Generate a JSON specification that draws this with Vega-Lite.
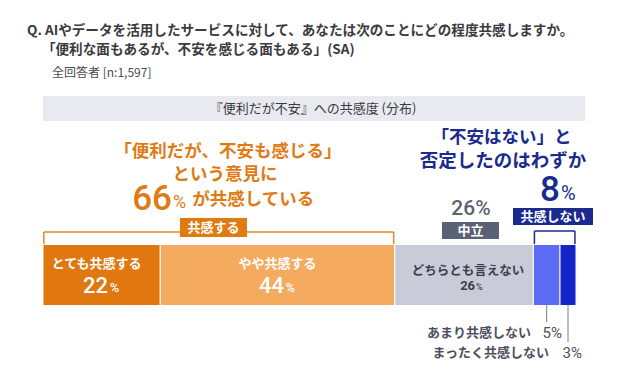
{
  "$schema": "https://vega.github.io/schema/vega-lite/v6.json",
  "width": 628,
  "height": 380,
  "autosize": {"type": "fit", "contains": "padding"},
  "padding": 0,
  "background": "white",
  "config": {"view": {"stroke": null}, "font": "Noto Sans CJK JP"},
  "datasets": {
    "segments": [
      {"cat": "とても共感する", "value": 22, "order": 1},
      {"cat": "やや共感する", "value": 44, "order": 2},
      {"cat": "どちらとも言えない", "value": 26, "order": 3},
      {"cat": "あまり共感しない", "value": 5, "order": 4},
      {"cat": "まったく共感しない", "value": 3, "order": 5}
    ]
  },
  "layer": [
    {
      "data": {"values": [{}]},
      "mark": {"type": "rect", "color": "#e9eaef"},
      "encoding": {
        "x": {"datum": 0, "type": "quantitative", "scale": {"domain": [-8.067, 109.756], "nice": false, "zero": false}, "axis": null},
        "x2": {"datum": 101.7},
        "y": {"datum": 96, "type": "quantitative", "scale": {"domain": [0, 380], "reverse": true, "nice": false, "zero": false}, "axis": null},
        "y2": {"datum": 121}
      }
    },
    {
      "data": {"values": [{"t": "『便利だが不安』への共感度 (分布)"}]},
      "mark": {"type": "text", "fontSize": 13, "color": "#3a3a42", "align": "center", "baseline": "middle"},
      "encoding": {"text": {"field": "t"}, "x": {"datum": 50.66}, "y": {"datum": 108.5}}
    },
    {
      "data": {"values": [{"t": "Q. AIやデータを活用したサービスに対して、あなたは次のことにどの程度共感しますか。"}]},
      "mark": {"type": "text", "fontSize": 13.6, "fontWeight": "bold", "color": "#3a3a3f", "align": "left", "baseline": "middle"},
      "encoding": {"text": {"field": "t"}, "x": {"datum": -3.0}, "y": {"datum": 31}}
    },
    {
      "data": {"values": [{"t": "「便利な面もあるが、不安を感じる面もある」(SA)"}]},
      "mark": {"type": "text", "fontSize": 13.6, "fontWeight": "bold", "color": "#3a3a3f", "align": "left", "baseline": "middle"},
      "encoding": {"text": {"field": "t"}, "x": {"datum": -0.2}, "y": {"datum": 50}}
    },
    {
      "data": {"values": [{"t": "全回答者 [n:1,597]"}]},
      "mark": {"type": "text", "fontSize": 12, "color": "#4a4a50", "align": "left", "baseline": "middle"},
      "encoding": {"text": {"field": "t"}, "x": {"datum": 1.69}, "y": {"datum": 73}}
    },
    {
      "data": {"values": [{"t": "「便利だが、不安も感じる」"}]},
      "mark": {"type": "text", "fontSize": 17.5, "fontWeight": "bold", "color": "#e07b14", "align": "center", "baseline": "middle"},
      "encoding": {"text": {"field": "t"}, "x": {"datum": 34.7}, "y": {"datum": 152}}
    },
    {
      "data": {"values": [{"t": "という意見に"}]},
      "mark": {"type": "text", "fontSize": 17.5, "fontWeight": "bold", "color": "#e07b14", "align": "center", "baseline": "middle"},
      "encoding": {"text": {"field": "t"}, "x": {"datum": 34.15}, "y": {"datum": 175}}
    },
    {
      "data": {"values": [{"t": "66"}]},
      "mark": {"type": "text", "font": "Roboto", "fontWeight": 500, "fontSize": 35, "color": "#e07b14", "align": "right", "baseline": "middle"},
      "encoding": {"text": {"field": "t"}, "x": {"datum": 24.2}, "y": {"datum": 199}}
    },
    {
      "data": {"values": [{"t": "%"}]},
      "mark": {"type": "text", "font": "Roboto", "fontSize": 18, "color": "#e07b14", "align": "left", "baseline": "middle"},
      "encoding": {"text": {"field": "t"}, "x": {"datum": 24.39}, "y": {"datum": 203}}
    },
    {
      "data": {"values": [{"t": "が共感している"}]},
      "mark": {"type": "text", "fontSize": 17.5, "fontWeight": "bold", "color": "#e07b14", "align": "left", "baseline": "middle"},
      "encoding": {"text": {"field": "t"}, "x": {"datum": 28.0}, "y": {"datum": 200}}
    },
    {
      "data": {"values": [{}]},
      "mark": {"type": "rule", "color": "#e08a2a", "strokeWidth": 1.5},
      "encoding": {"x": {"datum": 0.15}, "x2": {"datum": 65.8}, "y": {"datum": 232}}
    },
    {
      "data": {"values": [{"p": 0.15}, {"p": 65.8}]},
      "mark": {"type": "rule", "color": "#e08a2a", "strokeWidth": 1.5},
      "encoding": {"x": {"field": "p", "type": "quantitative"}, "y": {"datum": 232}, "y2": {"datum": 245}}
    },
    {
      "data": {"values": [{}]},
      "mark": {"type": "rect", "color": "#e07b14"},
      "encoding": {"x": {"datum": 25.7}, "x2": {"datum": 38.27}, "y": {"datum": 218}, "y2": {"datum": 237}}
    },
    {
      "data": {"values": [{"t": "共感する"}]},
      "mark": {"type": "text", "fontSize": 13, "fontWeight": "bold", "color": "white", "align": "center", "baseline": "middle"},
      "encoding": {"text": {"field": "t"}, "x": {"datum": 31.99}, "y": {"datum": 227.5}}
    },
    {
      "data": {"values": [{"t": "26%"}]},
      "mark": {"type": "text", "font": "Roboto", "fontWeight": 500, "fontSize": 21, "color": "#5d6272", "align": "center", "baseline": "middle"},
      "encoding": {"text": {"field": "t"}, "x": {"datum": 80.3}, "y": {"datum": 209}}
    },
    {
      "data": {"values": [{}]},
      "mark": {"type": "rect", "color": "#5a6075"},
      "encoding": {"x": {"datum": 74.86}, "x2": {"datum": 85.55}, "y": {"datum": 222}, "y2": {"datum": 239}}
    },
    {
      "data": {"values": [{"t": "中立"}]},
      "mark": {"type": "text", "fontSize": 13, "fontWeight": "bold", "color": "white", "align": "center", "baseline": "middle"},
      "encoding": {"text": {"field": "t"}, "x": {"datum": 80.2}, "y": {"datum": 230.5}}
    },
    {
      "data": {"values": [{"t": "「不安はない」と"}]},
      "mark": {"type": "text", "fontSize": 17.5, "fontWeight": "bold", "color": "#1b2a8e", "align": "center", "baseline": "middle"},
      "encoding": {"text": {"field": "t"}, "x": {"datum": 86.0}, "y": {"datum": 138}}
    },
    {
      "data": {"values": [{"t": "否定したのはわずか"}]},
      "mark": {"type": "text", "fontSize": 18.5, "fontWeight": "bold", "color": "#1b2a8e", "align": "center", "baseline": "middle"},
      "encoding": {"text": {"field": "t"}, "x": {"datum": 86.3}, "y": {"datum": 160.5}}
    },
    {
      "data": {"values": [{"t": "8"}]},
      "mark": {"type": "text", "font": "Roboto", "fontWeight": 500, "fontSize": 35, "color": "#1b2a8e", "align": "right", "baseline": "middle"},
      "encoding": {"text": {"field": "t"}, "x": {"datum": 97.0}, "y": {"datum": 189.5}}
    },
    {
      "data": {"values": [{"t": "%"}]},
      "mark": {"type": "text", "font": "Roboto", "fontSize": 20, "color": "#1b2a8e", "align": "left", "baseline": "middle"},
      "encoding": {"text": {"field": "t"}, "x": {"datum": 97.19}, "y": {"datum": 193.5}}
    },
    {
      "data": {"values": [{}]},
      "mark": {"type": "rect", "color": "#1b2a8e"},
      "encoding": {"x": {"datum": 88.18}, "x2": {"datum": 103.19}, "y": {"datum": 208}, "y2": {"datum": 225}}
    },
    {
      "data": {"values": [{"t": "共感しない"}]},
      "mark": {"type": "text", "fontSize": 13, "fontWeight": "bold", "color": "white", "align": "center", "baseline": "middle"},
      "encoding": {"text": {"field": "t"}, "x": {"datum": 95.68}, "y": {"datum": 216.5}}
    },
    {
      "data": {"values": [{}]},
      "mark": {"type": "rule", "color": "#1b2a8e", "strokeWidth": 1.5},
      "encoding": {"x": {"datum": 92.2}, "x2": {"datum": 99.8}, "y": {"datum": 231}}
    },
    {
      "data": {"values": [{"p": 92.2}, {"p": 99.8}]},
      "mark": {"type": "rule", "color": "#1b2a8e", "strokeWidth": 1.5},
      "encoding": {"x": {"field": "p", "type": "quantitative"}, "y": {"datum": 231}, "y2": {"datum": 245}}
    },
    {
      "data": {"name": "segments"},
      "transform": [
        {"stack": "value", "groupby": [], "sort": [{"field": "order", "order": "ascending"}], "as": ["x0", "x1"]},
        {"calculate": "(datum.x0 + datum.x1) / 2", "as": "mid"},
        {"calculate": "datum.value + '%'", "as": "pct"}
      ],
      "layer": [
        {
          "mark": {"type": "rect", "stroke": "white", "strokeWidth": 1},
          "encoding": {
            "x": {"field": "x0", "type": "quantitative"},
            "x2": {"field": "x1"},
            "y": {"datum": 244.5},
            "y2": {"datum": 305.5},
            "color": {"field": "cat", "type": "nominal", "legend": null,
              "scale": {"domain": ["とても共感する", "やや共感する", "どちらとも言えない", "あまり共感しない", "まったく共感しない"],
                        "range": ["#e0780f", "#f4aa5f", "#c9ccd8", "#5b6cf2", "#1424c8"]}}
          }
        },
        {
          "transform": [{"filter": "datum.order == 1"}],
          "mark": {"type": "text", "fontSize": 13, "fontWeight": "bold", "color": "white", "align": "center", "baseline": "middle", "dx": -5},
          "encoding": {"text": {"field": "cat"}, "x": {"field": "mid", "type": "quantitative"}, "y": {"datum": 264}}
        },
        {
          "transform": [{"filter": "datum.order == 2"}],
          "mark": {"type": "text", "fontSize": 13, "fontWeight": "bold", "color": "white", "align": "center", "baseline": "middle"},
          "encoding": {"text": {"field": "cat"}, "x": {"field": "mid", "type": "quantitative"}, "y": {"datum": 264}}
        },
        {
          "transform": [{"filter": "datum.order <= 2"}],
          "mark": {"type": "text", "font": "Roboto", "fontWeight": 500, "fontSize": 22, "color": "white", "align": "right", "baseline": "middle", "dx": 6.5},
          "encoding": {"text": {"field": "value"}, "x": {"field": "mid", "type": "quantitative"}, "y": {"datum": 285.5}}
        },
        {
          "transform": [{"filter": "datum.order <= 2"}],
          "mark": {"type": "text", "font": "Roboto", "fontWeight": 500, "fontSize": 13, "color": "white", "align": "left", "baseline": "middle", "dx": 8},
          "encoding": {"text": {"value": "%"}, "x": {"field": "mid", "type": "quantitative"}, "y": {"datum": 288}}
        },
        {
          "transform": [{"filter": "datum.order == 3"}],
          "mark": {"type": "text", "fontSize": 12.5, "fontWeight": "bold", "color": "#3b3f4d", "align": "center", "baseline": "middle", "dx": 4},
          "encoding": {"text": {"field": "cat"}, "x": {"field": "mid", "type": "quantitative"}, "y": {"datum": 270.5}}
        },
        {
          "transform": [{"filter": "datum.order == 3"}],
          "mark": {"type": "text", "font": "Roboto", "fontSize": 13, "fontWeight": "bold", "color": "#3b3f4d", "align": "right", "baseline": "middle", "dx": 11},
          "encoding": {"text": {"field": "value"}, "x": {"field": "mid", "type": "quantitative"}, "y": {"datum": 285.5}}
        },
        {
          "transform": [{"filter": "datum.order == 3"}],
          "mark": {"type": "text", "font": "Roboto", "fontSize": 9, "fontWeight": 500, "color": "#3b3f4d", "align": "left", "baseline": "middle", "dx": 12},
          "encoding": {"text": {"value": "%"}, "x": {"field": "mid", "type": "quantitative"}, "y": {"datum": 286.5}}
        },
        {
          "transform": [{"filter": "datum.order == 4"}],
          "mark": {"type": "rule", "color": "#7a7d88", "strokeWidth": 1},
          "encoding": {"x": {"field": "mid", "type": "quantitative"}, "y": {"datum": 305}, "y2": {"datum": 322}}
        },
        {
          "transform": [{"filter": "datum.order == 5"}],
          "mark": {"type": "rule", "color": "#7a7d88", "strokeWidth": 1},
          "encoding": {"x": {"field": "mid", "type": "quantitative"}, "y": {"datum": 305}, "y2": {"datum": 342}}
        },
        {
          "transform": [{"filter": "datum.order == 4"}],
          "mark": {"type": "text", "fontSize": 13, "fontWeight": "bold", "color": "#4d4f5c", "align": "right", "baseline": "middle", "dx": -15.7},
          "encoding": {"text": {"field": "cat"}, "x": {"field": "mid", "type": "quantitative"}, "y": {"datum": 333}}
        },
        {
          "transform": [{"filter": "datum.order == 4"}],
          "mark": {"type": "text", "font": "Roboto", "fontSize": 15, "color": "#4d4f5c", "align": "right", "baseline": "middle", "dx": 15.3},
          "encoding": {"text": {"field": "pct"}, "x": {"field": "mid", "type": "quantitative"}, "y": {"datum": 333}}
        },
        {
          "transform": [{"filter": "datum.order == 5"}],
          "mark": {"type": "text", "fontSize": 13, "fontWeight": "bold", "color": "#4d4f5c", "align": "right", "baseline": "middle", "dx": -19},
          "encoding": {"text": {"field": "cat"}, "x": {"field": "mid", "type": "quantitative"}, "y": {"datum": 353}}
        },
        {
          "transform": [{"filter": "datum.order == 5"}],
          "mark": {"type": "text", "font": "Roboto", "fontSize": 15, "color": "#4d4f5c", "align": "right", "baseline": "middle", "dx": 14},
          "encoding": {"text": {"field": "pct"}, "x": {"field": "mid", "type": "quantitative"}, "y": {"datum": 353}}
        }
      ]
    }
  ]
}
